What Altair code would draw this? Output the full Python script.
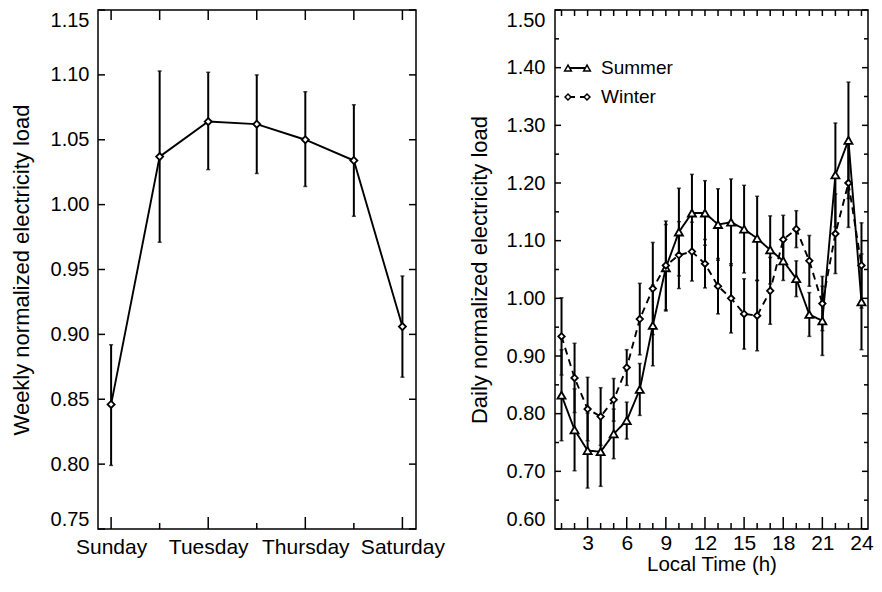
import altair as alt
import pandas as pd

# ---------------- Left panel: weekly profile ----------------
days = ["Sunday", "Monday", "Tuesday", "Wednesday", "Thursday", "Friday", "Saturday"]
day_num = [1, 2, 3, 4, 5, 6, 7]
weekly_mean = [0.846, 1.037, 1.064, 1.062, 1.050, 1.034, 0.906]
weekly_low = [0.799, 0.971, 1.027, 1.024, 1.014, 0.991, 0.867]
weekly_high = [0.892, 1.103, 1.102, 1.100, 1.087, 1.077, 0.945]
day_label_values = [1, 3, 5, 7]
day_minor_values = [2, 4, 6]
weekly_y_ticks = [0.75, 0.80, 0.85, 0.90, 0.95, 1.00, 1.05, 1.10, 1.15]

# ---------------- Right panel: daily profile ----------------
hours = list(range(1, 25))
summer_mean = [0.832, 0.772, 0.736, 0.734, 0.765, 0.788, 0.842, 0.953, 1.053, 1.115, 1.148, 1.148,
               1.128, 1.132, 1.120, 1.104, 1.084, 1.065, 1.034, 0.972, 0.961, 1.214, 1.274, 0.994]
summer_err = [0.079, 0.071, 0.065, 0.060, 0.043, 0.032, 0.045, 0.070, 0.075, 0.076, 0.067, 0.056,
              0.062, 0.075, 0.076, 0.073, 0.059, 0.034, 0.031, 0.038, 0.060, 0.090, 0.101, 0.083]
winter_mean = [0.934, 0.862, 0.808, 0.795, 0.824, 0.880, 0.964, 1.017, 1.057, 1.075, 1.081, 1.060,
               1.021, 1.000, 0.973, 0.970, 1.013, 1.102, 1.120, 1.065, 0.991, 1.112, 1.200, 1.057]
winter_err = [0.067, 0.060, 0.055, 0.050, 0.037, 0.031, 0.062, 0.080, 0.077, 0.058, 0.051, 0.042,
              0.048, 0.060, 0.061, 0.061, 0.058, 0.042, 0.032, 0.044, 0.047, 0.069, 0.077, 0.074]
series_names = ["Summer", "Winter"]
hour_label_values = [3, 6, 9, 12, 15, 18, 21, 24]
hour_minor_values = [h for h in hours if h not in hour_label_values]
daily_y_major = [0.60, 0.70, 0.80, 0.90, 1.00, 1.10, 1.20, 1.30, 1.40, 1.50]
daily_y_minor = [0.65, 0.75, 0.85, 0.95, 1.05, 1.15, 1.25, 1.35, 1.45]

FONT = "Liberation Sans"
LW, RW, H = 318, 313, 519
INK = "black"
YLAB, XLAB, TITLE, XTITLE, LEG = 20, 21, 22, 20.5, 19

# ---------------- data tables ----------------
week_df = pd.DataFrame({"day": day_num, "name": days, "mean": weekly_mean,
                        "low": weekly_low, "high": weekly_high})

rows = []
for name, means, errs in [(series_names[0], summer_mean, summer_err),
                          (series_names[1], winter_mean, winter_err)]:
    for h, m, e in zip(hours, means, errs):
        rows.append({"hour": h, "series": name, "mean": m, "low": m - e, "high": m + e})
day_df = pd.DataFrame(rows)


def tick_df(vals):
    return pd.DataFrame({"v": vals})


def rule():
    return dict(color=INK, strokeWidth=1.5)


# ---------------- left chart ----------------
lx_scale = alt.Scale(domain=[0.73, 7.28], nice=False, zero=False)
ly_scale = alt.Scale(domain=[0.75, 1.15], nice=False, zero=False)
label_expr = "[" + ",".join(["''"] + ["'%s'" % d for d in days]) + "][datum.value]"

lx_axis = alt.Axis(values=day_label_values, labelExpr=label_expr, ticks=False, domain=False,
                   grid=False, labelFontSize=XLAB, labelPadding=7, title=None, labelFlush=False)
ly_axis = alt.Axis(values=weekly_y_ticks, format=".2f", ticks=False, domain=False, grid=False,
                   labelFontSize=YLAB, labelPadding=9, labelFlush=True,
                   title="Weekly normalized electricity load", titleFontSize=TITLE, titlePadding=17)


def LX(f):
    return alt.X(f, scale=lx_scale, axis=lx_axis, title=None)


def LY(f):
    return alt.Y(f, scale=ly_scale, axis=ly_axis, title="Weekly normalized electricity load")


lbase = alt.Chart(week_df)
l_err = lbase.mark_rule(color=INK, strokeWidth=2).encode(x=LX("day:Q"), y=LY("low:Q"), y2="high:Q")
l_cap_lo = lbase.mark_tick(color=INK, orient="horizontal", size=4, thickness=1.5).encode(
    x=LX("day:Q"), y=LY("low:Q"))
l_cap_hi = lbase.mark_tick(color=INK, orient="horizontal", size=4, thickness=1.5).encode(
    x=LX("day:Q"), y=LY("high:Q"))
l_line = lbase.mark_line(color=INK, strokeWidth=1.9).encode(x=LX("day:Q"), y=LY("mean:Q"))
l_pts = lbase.mark_point(shape="diamond", size=50, filled=True, fill="white", stroke=INK,
                         strokeWidth=1.8, opacity=1).encode(x=LX("day:Q"), y=LY("mean:Q"))

# inward ticks (left panel)
l_yt_left = alt.Chart(tick_df(weekly_y_ticks)).mark_rule(**rule()).encode(
    y=LY("v:Q"), x=alt.value(0), x2=alt.value(7))
l_yt_right = alt.Chart(tick_df(weekly_y_ticks)).mark_rule(**rule()).encode(
    y=LY("v:Q"), x=alt.value(LW - 7), x2=alt.value(LW))
l_xt_long = alt.Chart(tick_df(day_label_values)).mark_rule(**rule()).encode(
    x=LX("v:Q"), y=alt.value(H - 12), y2=alt.value(H))
l_xt_short = alt.Chart(tick_df(day_minor_values)).mark_rule(**rule()).encode(
    x=LX("v:Q"), y=alt.value(H - 6), y2=alt.value(H))
l_xt_top = alt.Chart(tick_df(day_num)).mark_rule(**rule()).encode(
    x=LX("v:Q"), y=alt.value(0), y2=alt.value(10))

left = alt.layer(l_err, l_cap_lo, l_cap_hi, l_line, l_pts,
                 l_yt_left, l_yt_right, l_xt_long, l_xt_short, l_xt_top).properties(width=LW, height=H)

# ---------------- right chart ----------------
rx_scale = alt.Scale(domain=[0.5, 24.5], nice=False, zero=False)
ry_scale = alt.Scale(domain=[0.6, 1.5], nice=False, zero=False)
rx_axis = alt.Axis(values=hour_label_values, format="d", ticks=False, domain=False, grid=False,
                   labelFontSize=XLAB, labelPadding=3, labelFlush=False,
                   title="Local Time (h)", titleFontSize=XTITLE, titlePadding=1)
ry_axis = alt.Axis(values=daily_y_major, format=".2f", ticks=False, domain=False, grid=False,
                   labelFontSize=YLAB, labelPadding=10, labelFlush=True,
                   title="Daily normalized electricity load", titleFontSize=TITLE, titlePadding=15)


def RX(f):
    return alt.X(f, scale=rx_scale, axis=rx_axis, title="Local Time (h)")


def RY(f):
    return alt.Y(f, scale=ry_scale, axis=ry_axis, title="Daily normalized electricity load")


dash_scale = alt.Scale(domain=series_names, range=[[1, 0], [7, 5]])
shape_scale = alt.Scale(domain=series_names, range=["triangle-up", "diamond"])
size_scale = alt.Scale(domain=series_names, range=[65, 42])

rbase = alt.Chart(day_df)
r_err = rbase.mark_rule(color=INK, strokeWidth=2).encode(x=RX("hour:Q"), y=RY("low:Q"), y2="high:Q")
r_cap_lo = rbase.mark_tick(color=INK, orient="horizontal", size=4, thickness=1.5).encode(
    x=RX("hour:Q"), y=RY("low:Q"))
r_cap_hi = rbase.mark_tick(color=INK, orient="horizontal", size=4, thickness=1.5).encode(
    x=RX("hour:Q"), y=RY("high:Q"))
r_line = rbase.mark_line(color=INK, strokeWidth=1.9).encode(
    x=RX("hour:Q"), y=RY("mean:Q"),
    strokeDash=alt.StrokeDash("series:N", scale=dash_scale, legend=None),
    detail="series:N")
r_pts = rbase.mark_point(filled=True, fill="white", stroke=INK, strokeWidth=1.8, opacity=1).encode(
    x=RX("hour:Q"), y=RY("mean:Q"),
    shape=alt.Shape("series:N", scale=shape_scale, legend=None),
    size=alt.Size("series:N", scale=size_scale, legend=None))

# inward ticks (right panel)
r_yt_l_major = alt.Chart(tick_df(daily_y_major)).mark_rule(**rule()).encode(
    y=RY("v:Q"), x=alt.value(0), x2=alt.value(6))
r_yt_l_minor = alt.Chart(tick_df(daily_y_minor)).mark_rule(**rule()).encode(
    y=RY("v:Q"), x=alt.value(0), x2=alt.value(4))
r_yt_r_major = alt.Chart(tick_df(daily_y_major)).mark_rule(**rule()).encode(
    y=RY("v:Q"), x=alt.value(RW - 6), x2=alt.value(RW))
r_yt_r_minor = alt.Chart(tick_df(daily_y_minor)).mark_rule(**rule()).encode(
    y=RY("v:Q"), x=alt.value(RW - 4), x2=alt.value(RW))
r_xt_long = alt.Chart(tick_df(hour_label_values)).mark_rule(**rule()).encode(
    x=RX("v:Q"), y=alt.value(H - 12), y2=alt.value(H))
r_xt_short = alt.Chart(tick_df(hour_minor_values)).mark_rule(**rule()).encode(
    x=RX("v:Q"), y=alt.value(H - 6), y2=alt.value(H))
r_xt_top = alt.Chart(tick_df(hours)).mark_rule(**rule()).encode(
    x=RX("v:Q"), y=alt.value(0), y2=alt.value(6))

# legend (drawn inside the plot, top-left)
one = tick_df([0])
leg_layers = []
for name, yy, shape, sz, dash in [(series_names[0], 58, "triangle-up", 45, [1, 0]),
                                  (series_names[1], 87, "diamond", 35, [7, 5])]:
    leg_layers.append(alt.Chart(one).mark_rule(color=INK, strokeWidth=1.8, strokeDash=dash).encode(
        x=alt.value(13), x2=alt.value(32), y=alt.value(yy)))
    for xx in (13, 32):
        leg_layers.append(alt.Chart(one).mark_point(shape=shape, size=sz, filled=True, fill="white",
                                                    stroke=INK, strokeWidth=1.5, opacity=1).encode(
            x=alt.value(xx), y=alt.value(yy)))
    leg_layers.append(alt.Chart(one).mark_text(align="left", baseline="middle", fontSize=LEG,
                                               font=FONT, color=INK).encode(
        x=alt.value(46), y=alt.value(yy), text=alt.value(name)))

right = alt.layer(r_err, r_cap_lo, r_cap_hi, r_line, r_pts,
                  r_yt_l_major, r_yt_l_minor, r_yt_r_major, r_yt_r_minor,
                  r_xt_long, r_xt_short, r_xt_top, *leg_layers
                  ).properties(width=RW, height=H)

chart = alt.hconcat(left, right, spacing=21).properties(
    padding={"left": 1, "top": 0, "right": 0, "bottom": 0}
).configure(font=FONT).configure_view(stroke=INK, strokeWidth=1.5).configure_axis(
    labelFont=FONT, titleFont=FONT, labelColor=INK, titleColor=INK, titleFontWeight="normal")

chart.save("out.html", embed_options={"renderer": "svg", "actions": False})
